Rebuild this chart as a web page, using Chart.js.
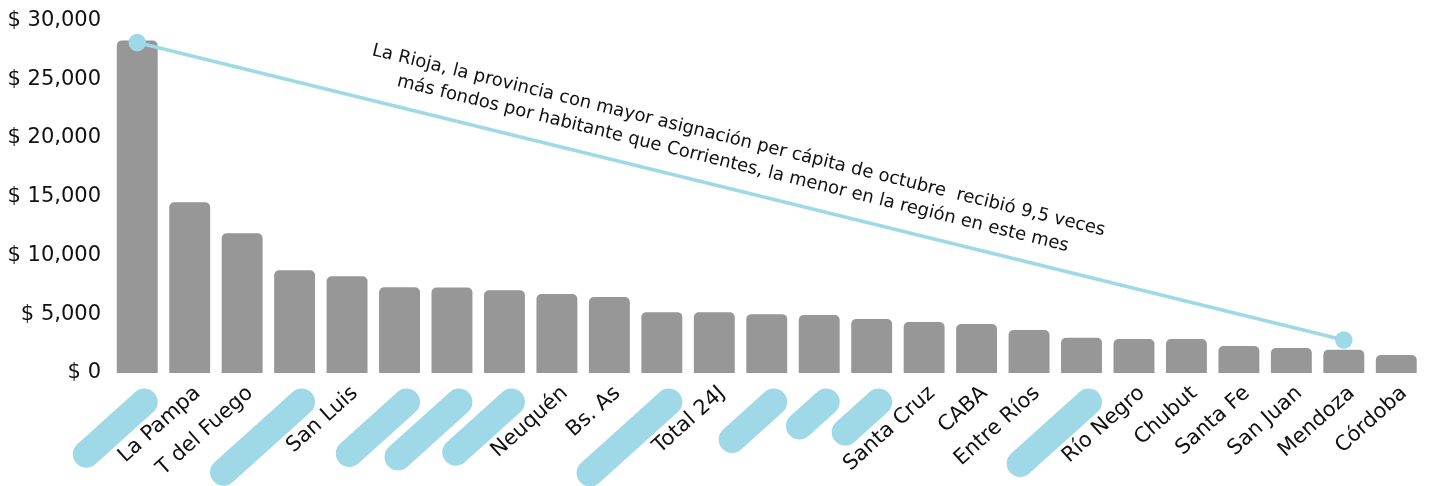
<!DOCTYPE html>
<html>
<head>
<meta charset="utf-8">
<script src="https://cdn.jsdelivr.net/npm/chart.js@4/dist/chart.umd.min.js"></script>
<style>
  html, body { margin: 0; padding: 0; background: #fff; }
  #wrap { width: 1433px; height: 486px; position: relative; }
</style>
</head>
<body>
<div id="wrap"><canvas id="chart"></canvas></div>
<script>
// etiquetas del eje x (las vacías quedan tapadas por las marcas celestes)
const provincias = ["", "La Pampa", "T del Fuego", "", "San Luis", "", "", "", "Neuquén", "Bs. As",
    "", "Total 24J", "", "", "", "Santa Cruz", "CABA", "Entre Ríos", "", "Río Negro",
    "Chubut", "Santa Fe", "San Juan", "Mendoza", "Córdoba"];

// asignación per cápita, octubre
const montos = [28300, 14530, 11900, 8750, 8240, 7300, 7280, 7050, 6720, 6460,
    5180, 5160, 5010, 4930, 4590, 4330, 4160, 3650, 2990, 2900,
    2890, 2290, 2120, 1970, 1530];

// línea de comparación La Rioja vs Corrientes (sólo dos puntos)
const comparacion = [28130, null, null, null, null, null, null, null, null, null,
    null, null, null, null, null, null, null, null, null, null,
    null, null, null, 2805, null];

// marcas que tapan etiquetas: índice de categoría y largo
const marcasIdx = [0, 3, 5, 6, 7, 10, 12, 13, 14, 18];
const marcasLargo = [78, 105, 77, 82, 75, 106, 56, 36, 45, 92];

const textoNota = [
    "La Rioja, la provincia con mayor asignación per cápita de octubre  recibió 9,5 veces",
    "más fondos por habitante que Corrientes, la menor en la región en este mes"
];

const celeste = '#9fd8e7';
const fuente = "'DejaVu Sans', sans-serif";

const marcasPlugin = {
    id: 'marcas',
    afterDraw(chart) {
        const ctx = chart.ctx;
        const xs = chart.scales.x;
        const ang = 42 * Math.PI / 180;
        ctx.save();
        ctx.strokeStyle = celeste;
        ctx.lineWidth = 27;
        ctx.lineCap = 'round';
        marcasIdx.forEach((idx, i) => {
            const tx = xs.getPixelForValue(idx) + 7;
            const ty = xs.top + 29;
            ctx.beginPath();
            ctx.moveTo(tx, ty);
            ctx.lineTo(tx - marcasLargo[i] * Math.cos(ang), ty + marcasLargo[i] * Math.sin(ang));
            ctx.stroke();
        });

        // texto de la nota sobre la línea
        const pts = chart.getDatasetMeta(1).data.filter(p => !p.skip);
        if (pts.length === 2) {
            const mx = (pts[0].x + pts[1].x) / 2;
            const my = (pts[0].y + pts[1].y) / 2;
            const a = Math.atan2(pts[1].y - pts[0].y, pts[1].x - pts[0].x);
            ctx.translate(mx, my);
            ctx.rotate(a);
            ctx.fillStyle = '#111';
            ctx.font = "18px " + fuente;
            ctx.textAlign = 'center';
            ctx.textBaseline = 'alphabetic';
            ctx.fillText(textoNota[0], -14, -44);
            ctx.fillText(textoNota[1], -14, -20);
        }
        ctx.restore();
    }
};

const ctx = document.getElementById('chart').getContext('2d');
new Chart(ctx, {
    type: 'bar',
    data: {
        labels: provincias,
        datasets: [
            {
                type: 'bar',
                data: montos,
                backgroundColor: '#979797',
                borderRadius: { topLeft: 5, topRight: 5 },
                borderSkipped: 'bottom',
                barPercentage: 0.78,
                categoryPercentage: 1,
                grouped: false,
                order: 2
            },
            {
                type: 'line',
                data: comparacion,
                spanGaps: true,
                borderColor: celeste,
                borderWidth: 3.5,
                pointRadius: 7,
                pointBackgroundColor: celeste,
                pointBorderColor: celeste,
                order: 1
            }
        ]
    },
    options: {
        responsive: true,
        maintainAspectRatio: false,
        animation: false,
        layout: { padding: { top: 18, right: 7, left: 0, bottom: 0 } },
        plugins: {
            legend: { display: false },
            tooltip: { enabled: false }
        },
        scales: {
            x: {
                offset: true,
                grid: { display: false, drawTicks: false, offset: true },
                border: { display: false },
                ticks: {
                    autoSkip: false,
                    minRotation: 42,
                    maxRotation: 42,
                    labelOffset: 8,
                    color: '#111',
                    padding: 8,
                    font: { family: fuente, size: 21 }
                },
                afterFit(scale) { scale.height = 113; }
            },
            y: {
                min: 0,
                max: 30000,
                grid: { display: false, drawTicks: false },
                border: { display: false },
                ticks: {
                    stepSize: 5000,
                    color: '#111',
                    padding: 10,
                    font: { family: fuente, size: 21, lineHeight: 1 },
                    callback: v => '$ ' + v.toLocaleString('en-US')
                },
                afterFit(scale) { scale.width = 111; }
            }
        }
    },
    plugins: [marcasPlugin]
});
</script>
</body>
</html>
